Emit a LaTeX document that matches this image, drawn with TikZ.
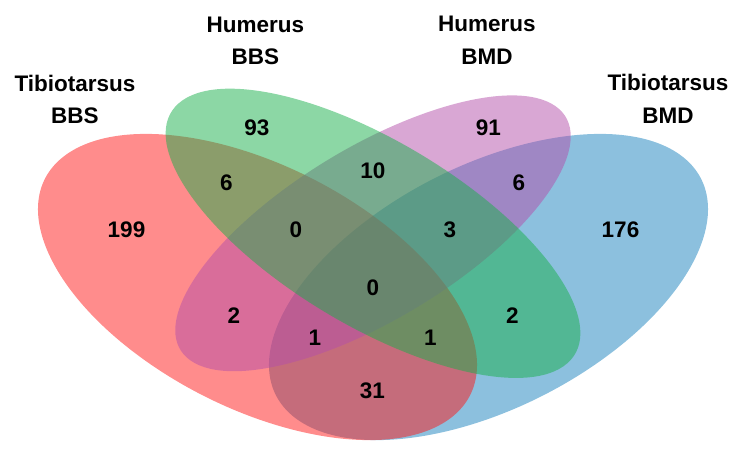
\documentclass[tikz,border=0pt]{standalone}
\usepackage{fontspec}
\setmainfont{Liberation Sans}
\definecolor{tibbbs}{RGB}{255,25,25}
\definecolor{humbbs}{RGB}{25,175,75}
\definecolor{humbmd}{RGB}{180,80,170}
\definecolor{tibbmd}{RGB}{25,130,190}
\begin{document}
\begin{tikzpicture}[x=1pt, y=1pt,
		count/.style={inner sep=0pt, font=\fontsize{22.5}{27}\selectfont\bfseries},
		setlabel/.style={inner sep=0pt, align=center, font=\fontsize{22.5}{32.5}\selectfont\bfseries}]
	\useasboundingbox (0,0) rectangle (740,453);
	\def\sx{770}
	\def\sy{537}

	% the four sets, in unit coordinates stretched to the page
	\begin{scope}[shift={(-12,-86.4)}, xscale=\sx, yscale=\sy, fill opacity=0.5]
		\fill[tibbmd, shift={(0.65,0.47)}, rotate=45] (0,0) ellipse (0.35 and 0.2);
		\fill[tibbbs, shift={(0.35,0.47)}, rotate=-45] (0,0) ellipse (0.35 and 0.2);
		\fill[humbmd, shift={(0.5,0.57)}, rotate=45] (0,0) ellipse (0.335 and 0.14);
		\fill[humbbs, shift={(0.5,0.57)}, rotate=-45] (0,0) ellipse (0.35 and 0.15);
	\end{scope}

	\node[setlabel] (lTB) at (75,353.75) {Tibiotarsus\\BBS};
	\node[setlabel] (lHB) at (255.5,412) {Humerus\\BBS};
	\node[setlabel] (lHM) at (487,412.5) {Humerus\\BMD};
	\node[setlabel] (lTM) at (668,354) {Tibiotarsus\\BMD};

	\node[count] (nHB) at (257,325.5) {93};
	\node[count] (nHM) at (488.5,325) {91};
	\node[count] (nTB) at (126.5,223) {199};
	\node[count] (nTM) at (620.5,223) {176};
	\node[count] (nTBHB) at (226.5,270.5) {6};
	\node[count] (nHBHM) at (373,282) {10};
	\node[count] (nHMTM) at (519,270.5) {6};
	\node[count] (nTBHBHM) at (296,223) {0};
	\node[count] (nHBHMTM) at (450,223) {3};
	\node[count] (nall) at (373,165) {0};
	\node[count] (nTBHM) at (234,137) {2};
	\node[count] (nHBTM) at (512.5,137) {2};
	\node[count] (nTBHMTM) at (315,115) {1};
	\node[count] (nTBHBTM) at (430.5,115) {1};
	\node[count] (nTBTM) at (372.5,62) {31};
\end{tikzpicture}
\end{document}
